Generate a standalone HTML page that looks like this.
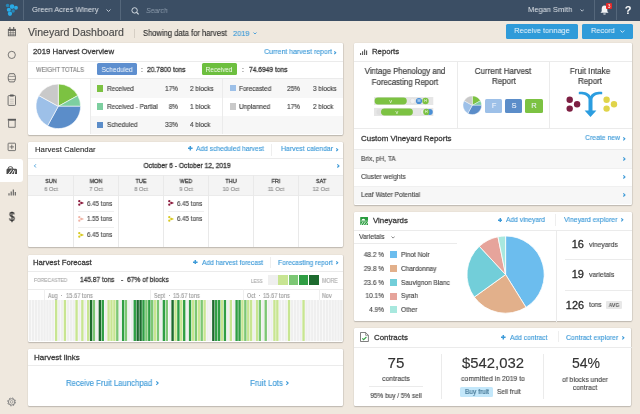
<!DOCTYPE html>
<html><head><meta charset="utf-8"><title>Vineyard Dashboard</title>
<style>
html,body{margin:0;padding:0;}
body{width:640px;height:414px;overflow:hidden;position:relative;background:#efe8de;font-family:"Liberation Sans",sans-serif;}
.t{position:absolute;white-space:nowrap;line-height:1;will-change:transform;}
.r{position:absolute;}
.card{position:absolute;background:#fff;border-radius:1.2px;box-shadow:0 1px 1.2px rgba(0,0,0,0.2), 0.6px 0 0.8px rgba(0,0,0,0.07), 0 0 0 0.5px rgba(0,0,0,0.045);}
</style></head><body>
<div class="r" style="left:0.00px;top:0.00px;width:640.00px;height:20.70px;background:#3b4e64;"></div>
<div class="r" style="left:22.50px;top:0.00px;width:0.70px;height:20.30px;background:#55677b;"></div>
<div class="r" style="left:120.30px;top:0.00px;width:0.70px;height:20.30px;background:#55677b;"></div>
<div class="r" style="left:593.50px;top:0.00px;width:0.70px;height:20.30px;background:#55677b;"></div>
<div class="r" style="left:616.30px;top:0.00px;width:0.70px;height:20.30px;background:#55677b;"></div>
<svg class="r" style="left:0;top:0" width="22" height="20" viewBox="0 0 22 20">
<circle cx="7.55" cy="5.55" r="1.75" fill="#2686b6"/>
<circle cx="12.05" cy="6.6" r="2.3" fill="#29aae6"/>
<circle cx="16" cy="7.75" r="1.9" fill="#29aae6"/>
<circle cx="8.85" cy="9.7" r="2.05" fill="#29aae6"/>
<circle cx="13.1" cy="10.9" r="1.75" fill="#2686b6"/>
<circle cx="9.95" cy="13.75" r="2.15" fill="#29aae6"/></svg>
<div class="t" style="top:6.00px;font-size:7.674px;color:#dde2e8;left:32.00px;transform:scaleX(0.9709);transform-origin:left;-webkit-text-stroke:0;">Green Acres Winery</div>
<svg class="r" style="left:105.6px;top:8.8px" width="5" height="3.5" viewBox="-0.5 -0.5 5 3.5"><path d="M0 0 L2.0 2.0 L4 0" fill="none" stroke="#c9d2dc" stroke-width="0.9"/></svg>
<svg class="r" style="left:130.5px;top:6.5px" width="9" height="8" viewBox="0 0 9 8"><circle cx="3.6" cy="3.4" r="2.7" fill="none" stroke="#dfe5eb" stroke-width="0.9"/><path d="M5.6 5.4 L7.6 7.3" stroke="#dfe5eb" stroke-width="1.1"/></svg>
<div class="t" style="top:7.00px;font-size:7.344px;color:#8d9cad;font-style:italic;left:146.00px;transform:scaleX(0.9259);transform-origin:left;-webkit-text-stroke:0;">Search</div>
<div class="t" style="top:6.00px;font-size:7.725px;color:#dde2e8;left:527.90px;transform:scaleX(0.9709);transform-origin:left;-webkit-text-stroke:0;">Megan Smith</div>
<svg class="r" style="left:579.6px;top:8.9px" width="4.4" height="3.2" viewBox="-0.5 -0.5 4.4 3.2"><path d="M0 0 L1.7 1.7 L3.4 0" fill="none" stroke="#c9d2dc" stroke-width="0.9"/></svg>
<svg class="r" style="left:599.5px;top:5px" width="9" height="10" viewBox="0 0 9 10"><path d="M4.5 0.6 C2.4 0.6 1.7 2.3 1.7 4.2 L1.7 6.3 L0.5 7.8 L8.5 7.8 L7.3 6.3 L7.3 4.2 C7.3 2.3 6.6 0.6 4.5 0.6Z" fill="#f2f4f6"/><path d="M3.2 8.4 a1.3 1.2 0 0 0 2.6 0Z" fill="#f2f4f6"/></svg>
<div class="r" style="left:605.80px;top:2.80px;width:6.50px;height:6.60px;background:#e02a2a;border-radius:1px"></div>
<div class="t" style="top:5.00px;font-size:4.860px;color:#fff;left:309.05px;width:600px;text-align:center;transform:scaleX(0.9259);transform-origin:center;-webkit-text-stroke:0;">3</div>
<div class="t" style="top:5.00px;font-size:11.000px;color:#fbfbfb;font-weight:700;left:328.20px;width:600px;text-align:center;">?</div>
<div class="r" style="left:0.00px;top:159.30px;width:22.80px;height:22.40px;background:#ffffff;border-radius:0 3px 3px 0"></div>
<svg class="r" style="left:0;top:20px" width="24" height="394" viewBox="0 20 24 394" fill="none" stroke="#5a5a5a" stroke-width="0.8">
<!-- calendar -->
<rect x="8.3" y="29.3" width="7.2" height="6.5" stroke-width="0.8"/>
<rect x="8.3" y="29.3" width="7.2" height="1.6" fill="#5a5a5a" stroke="none"/>
<path d="M10.7 29.5 V35.8 M13.1 29.5 V35.8 M8.3 32.6 H15.5 M8.3 34.3 H15.5" stroke-width="0.55"/>
<path d="M9.9 27.1 V29.5 M13.7 27.1 V29.5" stroke-width="1.1"/>
<!-- circle -->
<circle cx="11.75" cy="54.9" r="3.6"/>
<!-- barrel -->
<path d="M9.4 73.7 C7.7 75.7 7.7 79.9 9.4 81.9 H14.2 C15.9 79.9 15.9 75.7 14.2 73.7 Z" stroke-width="0.85"/>
<path d="M8.5 76.2 Q11.8 76.8 15.1 76.2 M8.5 79.4 Q11.8 80 15.1 79.4" stroke-width="0.6"/>
<!-- clipboard -->
<rect x="8.1" y="95.6" width="7.4" height="9.8" rx="0.8" stroke-width="0.85"/>
<rect x="9.9" y="94.6" width="3.8" height="1.9" rx="0.4" fill="#5a5a5a" stroke="none"/>
<path d="M9.9 99.2 H13.7 M9.9 101.2 H13.7 M9.9 103.2 H13.7" stroke-width="0.45" stroke="#999"/>
<!-- archive -->
<rect x="7.8" y="118.8" width="8.2" height="1.9" fill="#5a5a5a" stroke="none"/>
<path d="M8.6 120.6 V127.3 H15.2 V120.6"/>
<!-- plus box -->
<rect x="8.1" y="143.2" width="7.4" height="7.4" rx="0.6"/>
<path d="M11.8 144.7 V149.1 M9.6 146.9 H14" />
<!-- chart -->
<path d="M9 195.5 V193.2 M11.2 195.5 V191.4 M13.3 195.5 V189.5 M15.3 195.5 V192" stroke-width="1.1"/>
<!-- gear -->
<circle cx="11.6" cy="401.9" r="3.2" stroke="#858585" stroke-width="1.0"/>
<circle cx="11.6" cy="401.9" r="3.95" stroke="#858585" stroke-width="1.0" stroke-dasharray="1.55 1.55"/>
<circle cx="11.6" cy="401.9" r="1.35" stroke="#888" stroke-width="0.7"/>
</svg>
<svg class="r" style="left:6px;top:164px" width="12" height="11" viewBox="6 164 12 11">
<path d="M6.5 174.1 V169.9 Q6.5 168.7 7.7 168.7 H15.8 Q17 168.7 17 169.9 V174.1 Z" fill="#4a4a4a"/>
<path d="M8 168.9 A2.45 2.3 0 0 1 12.9 168.9 Z" fill="#fff" stroke="#4a4a4a" stroke-width="0.9"/>
<path d="M8.2 174.3 L11.7 169.6 M11.2 174.3 L13.9 169.9 M14.3 174.3 L15 170.6" stroke="#fff" stroke-width="0.95"/>
</svg>
<div class="t" style="top:211.00px;font-size:12.200px;color:#333;left:-288.35px;width:600px;text-align:center;transform:scaleX(0.8200);transform-origin:center;-webkit-text-stroke:0.35px #333;">$</div>
<div class="t" style="top:27.00px;font-size:10.550px;color:#4a4a4a;-webkit-text-stroke:0.14px #4a4a4a;left:28.20px;">Vineyard Dashboard</div>
<div class="r" style="left:134.20px;top:28.60px;width:0.80px;height:9.00px;background:#d6cfc5;"></div>
<div class="t" style="top:30.00px;font-size:8.208px;color:#2e2e2e;-webkit-text-stroke:0.14px #2e2e2e;left:143.30px;transform:scaleX(0.9259);transform-origin:left;">Showing data for harvest</div>
<div class="t" style="top:30.00px;font-size:7.992px;color:#3d9ad8;-webkit-text-stroke:0.14px #3d9ad8;left:232.60px;transform:scaleX(0.9259);transform-origin:left;">2019</div>
<svg class="r" style="left:253.4px;top:31.9px" width="4" height="3.0" viewBox="-0.5 -0.5 4 3.0"><path d="M0 0 L1.5 1.5 L3 0" fill="none" stroke="#3d9ad8" stroke-width="0.9"/></svg>
<div class="r" style="left:505.80px;top:24.20px;width:72.40px;height:14.60px;background:#2f9bd9;border-radius:1.5px"></div>
<div class="t" style="top:27.00px;font-size:7.992px;color:#f2f8fd;left:242.00px;width:600px;text-align:center;transform:scaleX(0.9259);transform-origin:center;-webkit-text-stroke:0;">Receive tonnage</div>
<div class="r" style="left:582.00px;top:24.20px;width:50.80px;height:14.60px;background:#2f9bd9;border-radius:1.5px"></div>
<div class="t" style="top:27.00px;font-size:7.992px;color:#f2f8fd;left:590.50px;transform:scaleX(0.9259);transform-origin:left;-webkit-text-stroke:0;">Record</div>
<svg class="r" style="left:620.4px;top:30px" width="4.8" height="3.4" viewBox="-0.5 -0.5 4.8 3.4"><path d="M0 0 L1.9 1.9 L3.8 0" fill="none" stroke="#e8f3fb" stroke-width="0.9"/></svg>
<div class="card" style="left:28px;top:43px;width:315px;height:92px"></div>
<div class="card" style="left:28px;top:141.6px;width:315px;height:105.4px"></div>
<div class="card" style="left:28px;top:255px;width:315px;height:86.7px"></div>
<div class="card" style="left:28px;top:349px;width:315px;height:57px"></div>
<div class="card" style="left:354px;top:43px;width:277.7px;height:161.5px"></div>
<div class="card" style="left:354px;top:212px;width:277.7px;height:109.4px"></div>
<div class="card" style="left:354px;top:328.4px;width:277.4px;height:78.1px"></div>
<div class="t" style="top:48.00px;font-size:7.810px;color:#3a3a3a;-webkit-text-stroke:0.28px #3a3a3a;left:33.00px;">2019 Harvest Overview</div>
<div class="t" style="top:48.00px;font-size:7.506px;color:#3d9ad8;-webkit-text-stroke:0.14px #3d9ad8;left:-268.50px;width:600px;text-align:right;transform:scaleX(0.9259);transform-origin:right;">Current harvest report</div>
<svg class="r" style="left:333.90px;top:50.50px;overflow:visible" width="2.11" height="3.40" viewBox="0 0 2.11 3.40"><path d="M0.3 0.3 L1.71 1.70 L0.3 3.10" fill="none" stroke="#3d9ad8" stroke-width="1.15"/></svg>
<div class="r" style="left:28.00px;top:61.20px;width:315.00px;height:0.60px;background:#ebebeb;"></div>
<div class="t" style="top:67.00px;font-size:6.840px;color:#808080;-webkit-text-stroke:0.14px #808080;left:35.50px;transform:scaleX(0.8772);transform-origin:left;">WEIGHT TOTALS</div>
<div class="r" style="left:96.60px;top:63.40px;width:40.30px;height:11.70px;background:#5e8fcf;border-radius:1.5px"></div>
<div class="t" style="top:66.00px;font-size:7.236px;color:#f4f8fc;left:-183.25px;width:600px;text-align:center;transform:scaleX(0.9259);transform-origin:center;-webkit-text-stroke:0;letter-spacing:-0.05px;">Scheduled</div>
<div class="t" style="top:66.00px;font-size:7.020px;color:#474747;-webkit-text-stroke:0.14px #474747;left:140.80px;transform:scaleX(0.9259);transform-origin:left;">:</div>
<div class="t" style="top:66.00px;font-size:7.204px;color:#3a3a3a;-webkit-text-stroke:0.28px #3a3a3a;left:147.00px;transform:scaleX(0.9259);transform-origin:left;">20.7800 tons</div>
<div class="r" style="left:201.70px;top:63.40px;width:35.20px;height:11.70px;background:#6dbf3f;border-radius:1.5px"></div>
<div class="t" style="top:66.00px;font-size:7.020px;color:#f6fbf2;left:-80.70px;width:600px;text-align:center;transform:scaleX(0.9259);transform-origin:center;-webkit-text-stroke:0;letter-spacing:-0.05px;">Received</div>
<div class="t" style="top:66.00px;font-size:7.020px;color:#474747;-webkit-text-stroke:0.14px #474747;left:241.50px;transform:scaleX(0.9259);transform-origin:left;">:</div>
<div class="t" style="top:66.00px;font-size:7.204px;color:#3a3a3a;-webkit-text-stroke:0.28px #3a3a3a;left:249.00px;transform:scaleX(0.9259);transform-origin:left;">74.6949 tons</div>
<div class="r" style="left:28.00px;top:78.40px;width:315.00px;height:0.60px;background:#ebebeb;"></div>
<div class="r" style="left:90.60px;top:79.00px;width:252.40px;height:18.50px;background:#f7f7f7;"></div>
<div class="r" style="left:90.60px;top:115.80px;width:252.40px;height:18.60px;background:#f7f7f7;"></div>
<div class="r" style="left:90.20px;top:79.00px;width:0.60px;height:55.40px;background:#ebebeb;"></div>
<div class="r" style="left:222.30px;top:79.00px;width:0.60px;height:55.40px;background:#ebebeb;"></div>
<div class="r" style="left:96.70px;top:85.10px;width:6.50px;height:6.50px;background:#7cc242;"></div>
<div class="t" style="top:86.00px;font-size:6.966px;color:#404040;-webkit-text-stroke:0.14px #404040;left:106.80px;transform:scaleX(0.9259);transform-origin:left;">Received</div>
<div class="t" style="top:86.00px;font-size:6.966px;color:#404040;-webkit-text-stroke:0.14px #404040;left:-422.20px;width:600px;text-align:right;transform:scaleX(0.9259);transform-origin:right;">17%</div>
<div class="t" style="top:86.00px;font-size:6.966px;color:#404040;-webkit-text-stroke:0.14px #404040;left:190.30px;transform:scaleX(0.9259);transform-origin:left;">2 blocks</div>
<div class="r" style="left:229.80px;top:85.10px;width:6.40px;height:6.40px;background:#9dc0e8;"></div>
<div class="t" style="top:86.00px;font-size:6.966px;color:#404040;-webkit-text-stroke:0.14px #404040;left:239.40px;transform:scaleX(0.9259);transform-origin:left;">Forecasted</div>
<div class="t" style="top:86.00px;font-size:6.966px;color:#404040;-webkit-text-stroke:0.14px #404040;left:-300.00px;width:600px;text-align:right;transform:scaleX(0.9259);transform-origin:right;">25%</div>
<div class="t" style="top:86.00px;font-size:6.966px;color:#404040;-webkit-text-stroke:0.14px #404040;left:313.00px;transform:scaleX(0.9259);transform-origin:left;">3 blocks</div>
<div class="r" style="left:96.70px;top:103.40px;width:6.50px;height:6.50px;background:#7dcfa0;"></div>
<div class="t" style="top:104.00px;font-size:6.966px;color:#404040;-webkit-text-stroke:0.14px #404040;left:106.80px;transform:scaleX(0.9259);transform-origin:left;">Received - Partial</div>
<div class="t" style="top:104.00px;font-size:6.966px;color:#404040;-webkit-text-stroke:0.14px #404040;left:-422.20px;width:600px;text-align:right;transform:scaleX(0.9259);transform-origin:right;">8%</div>
<div class="t" style="top:104.00px;font-size:6.966px;color:#404040;-webkit-text-stroke:0.14px #404040;left:190.30px;transform:scaleX(0.9259);transform-origin:left;">1 block</div>
<div class="r" style="left:229.80px;top:103.40px;width:6.40px;height:6.40px;background:#c9c9c9;"></div>
<div class="t" style="top:104.00px;font-size:6.966px;color:#404040;-webkit-text-stroke:0.14px #404040;left:239.40px;transform:scaleX(0.9259);transform-origin:left;">Unplanned</div>
<div class="t" style="top:104.00px;font-size:6.966px;color:#404040;-webkit-text-stroke:0.14px #404040;left:-300.00px;width:600px;text-align:right;transform:scaleX(0.9259);transform-origin:right;">17%</div>
<div class="t" style="top:104.00px;font-size:6.966px;color:#404040;-webkit-text-stroke:0.14px #404040;left:313.00px;transform:scaleX(0.9259);transform-origin:left;">2 block</div>
<div class="r" style="left:96.70px;top:121.70px;width:6.50px;height:6.50px;background:#5b8dc9;"></div>
<div class="t" style="top:122.00px;font-size:6.966px;color:#404040;-webkit-text-stroke:0.14px #404040;left:106.80px;transform:scaleX(0.9259);transform-origin:left;">Scheduled</div>
<div class="t" style="top:122.00px;font-size:6.966px;color:#404040;-webkit-text-stroke:0.14px #404040;left:-422.20px;width:600px;text-align:right;transform:scaleX(0.9259);transform-origin:right;">33%</div>
<div class="t" style="top:122.00px;font-size:6.966px;color:#404040;-webkit-text-stroke:0.14px #404040;left:190.30px;transform:scaleX(0.9259);transform-origin:left;">4 block</div>
<svg class="r" style="left:35.30px;top:83.30px" width="46.60" height="46.60" viewBox="-23.30 -23.30 46.60 46.60"><path d="M0 0 L0.000 -22.300 A22.3 22.3 0 0 1 19.542 -10.743 Z" fill="#7cc242" stroke="#fff" stroke-width="0.6" stroke-linejoin="round"/><path d="M0 0 L19.542 -10.743 A22.3 22.3 0 0 1 22.300 -0.000 Z" fill="#7dcfa0" stroke="#fff" stroke-width="0.6" stroke-linejoin="round"/><path d="M0 0 L22.300 -0.000 A22.3 22.3 0 0 1 -10.743 19.542 Z" fill="#5b8dc9" stroke="#fff" stroke-width="0.6" stroke-linejoin="round"/><path d="M0 0 L-10.743 19.542 A22.3 22.3 0 0 1 -19.542 -10.743 Z" fill="#9dc0e8" stroke="#fff" stroke-width="0.6" stroke-linejoin="round"/><path d="M0 0 L-19.542 -10.743 A22.3 22.3 0 0 1 -0.000 -22.300 Z" fill="#c9c9c9" stroke="#fff" stroke-width="0.6" stroke-linejoin="round"/></svg>
<div class="t" style="top:146.00px;font-size:7.790px;color:#2e2e2e;left:34.60px;-webkit-text-stroke:0.12px #2e2e2e;">Harvest Calendar</div>
<svg class="r" style="left:188.10px;top:146.40px" width="4.6" height="4.6" viewBox="0 0 4.6 4.6"><path d="M2.3 0 V4.6 M0 2.3 H4.6" stroke="#3d9ad8" stroke-width="1.5"/></svg>
<div class="t" style="top:145.00px;font-size:7.214px;color:#3d9ad8;-webkit-text-stroke:0.14px #3d9ad8;left:196.00px;transform:scaleX(0.9259);transform-origin:left;">Add scheduled harvest</div>
<div class="r" style="left:271.20px;top:144.00px;width:0.80px;height:11.60px;background:#eeeeee;"></div>
<div class="t" style="top:145.00px;font-size:7.441px;color:#3d9ad8;-webkit-text-stroke:0.14px #3d9ad8;left:280.50px;transform:scaleX(0.9259);transform-origin:left;">Harvest calendar</div>
<svg class="r" style="left:336.30px;top:147.50px;overflow:visible" width="2.11" height="3.40" viewBox="0 0 2.11 3.40"><path d="M0.3 0.3 L1.71 1.70 L0.3 3.10" fill="none" stroke="#3d9ad8" stroke-width="1.15"/></svg>
<div class="r" style="left:28.00px;top:158.10px;width:315.00px;height:0.60px;background:#ebebeb;"></div>
<svg class="r" style="left:33.9px;top:164.3px;overflow:visible" width="2.2" height="3.8" viewBox="0 0 2.2 3.8"><path d="M1.9 0.3 L0.4 1.9 L1.9 3.5" fill="none" stroke="#3d9ad8" stroke-width="0.9"/></svg>
<svg class="r" style="left:337.00px;top:164.30px;overflow:visible" width="2.36" height="3.80" viewBox="0 0 2.36 3.80"><path d="M0.3 0.3 L1.96 1.90 L0.3 3.50" fill="none" stroke="#3d9ad8" stroke-width="1.15"/></svg>
<div class="t" style="top:162.00px;font-size:7.247px;color:#333;-webkit-text-stroke:0.28px #333;left:-113.50px;width:600px;text-align:center;transform:scaleX(0.9259);transform-origin:center;">October 6 - October 12, 2019</div>
<div class="r" style="left:28.00px;top:175.10px;width:315.00px;height:20.30px;background:#f4f4f4;"></div>
<div class="r" style="left:28.00px;top:174.80px;width:315.00px;height:0.60px;background:#ebebeb;"></div>
<div class="r" style="left:28.00px;top:195.20px;width:315.00px;height:0.60px;background:#ebebeb;"></div>
<div class="t" style="top:179.00px;font-size:5.832px;color:#444;-webkit-text-stroke:0.28px #444;left:-249.50px;width:600px;text-align:center;transform:scaleX(0.9259);transform-origin:center;">SUN</div>
<div class="t" style="top:186.00px;font-size:6.188px;color:#8c8c8c;-webkit-text-stroke:0.14px #8c8c8c;left:-249.50px;width:600px;text-align:center;transform:scaleX(0.9259);transform-origin:center;">6 Oct</div>
<div class="t" style="top:179.00px;font-size:5.832px;color:#444;-webkit-text-stroke:0.28px #444;left:-204.50px;width:600px;text-align:center;transform:scaleX(0.9259);transform-origin:center;">MON</div>
<div class="t" style="top:186.00px;font-size:6.188px;color:#8c8c8c;-webkit-text-stroke:0.14px #8c8c8c;left:-204.50px;width:600px;text-align:center;transform:scaleX(0.9259);transform-origin:center;">7 Oct</div>
<div class="r" style="left:73.00px;top:175.10px;width:0.90px;height:71.60px;background:#e9e9e9;"></div>
<div class="t" style="top:179.00px;font-size:5.832px;color:#444;-webkit-text-stroke:0.28px #444;left:-159.50px;width:600px;text-align:center;transform:scaleX(0.9259);transform-origin:center;">TUE</div>
<div class="t" style="top:186.00px;font-size:6.188px;color:#8c8c8c;-webkit-text-stroke:0.14px #8c8c8c;left:-159.50px;width:600px;text-align:center;transform:scaleX(0.9259);transform-origin:center;">8 Oct</div>
<div class="r" style="left:118.00px;top:175.10px;width:0.90px;height:71.60px;background:#e9e9e9;"></div>
<div class="t" style="top:179.00px;font-size:5.832px;color:#444;-webkit-text-stroke:0.28px #444;left:-114.50px;width:600px;text-align:center;transform:scaleX(0.9259);transform-origin:center;">WED</div>
<div class="t" style="top:186.00px;font-size:6.188px;color:#8c8c8c;-webkit-text-stroke:0.14px #8c8c8c;left:-114.50px;width:600px;text-align:center;transform:scaleX(0.9259);transform-origin:center;">9 Oct</div>
<div class="r" style="left:163.00px;top:175.10px;width:0.90px;height:71.60px;background:#e9e9e9;"></div>
<div class="t" style="top:179.00px;font-size:5.832px;color:#444;-webkit-text-stroke:0.28px #444;left:-69.50px;width:600px;text-align:center;transform:scaleX(0.9259);transform-origin:center;">THU</div>
<div class="t" style="top:186.00px;font-size:6.188px;color:#8c8c8c;-webkit-text-stroke:0.14px #8c8c8c;left:-69.50px;width:600px;text-align:center;transform:scaleX(0.9259);transform-origin:center;">10 Oct</div>
<div class="r" style="left:208.00px;top:175.10px;width:0.90px;height:71.60px;background:#e9e9e9;"></div>
<div class="t" style="top:179.00px;font-size:5.832px;color:#444;-webkit-text-stroke:0.28px #444;left:-24.50px;width:600px;text-align:center;transform:scaleX(0.9259);transform-origin:center;">FRI</div>
<div class="t" style="top:186.00px;font-size:6.188px;color:#8c8c8c;-webkit-text-stroke:0.14px #8c8c8c;left:-24.50px;width:600px;text-align:center;transform:scaleX(0.9259);transform-origin:center;">11 Oct</div>
<div class="r" style="left:253.00px;top:175.10px;width:0.90px;height:71.60px;background:#e9e9e9;"></div>
<div class="t" style="top:179.00px;font-size:5.832px;color:#444;-webkit-text-stroke:0.28px #444;left:20.50px;width:600px;text-align:center;transform:scaleX(0.9259);transform-origin:center;">SAT</div>
<div class="t" style="top:186.00px;font-size:6.188px;color:#8c8c8c;-webkit-text-stroke:0.14px #8c8c8c;left:20.50px;width:600px;text-align:center;transform:scaleX(0.9259);transform-origin:center;">12 Oct</div>
<div class="r" style="left:298.00px;top:175.10px;width:0.90px;height:71.60px;background:#e9e9e9;"></div>
<svg class="r" style="left:77.9px;top:200.0px" width="6" height="6" viewBox="0 0 6 6"><circle cx="1.3" cy="1.2" r="1.15" fill="#8b1a3c"/><circle cx="1.3" cy="4.7" r="1.15" fill="#8b1a3c"/><circle cx="3.3" cy="3" r="1.15" fill="#8b1a3c"/><path d="M4.2 2 L6 3 L4.2 4Z" fill="#8b1a3c"/></svg>
<div class="t" style="top:201.00px;font-size:6.664px;color:#474747;-webkit-text-stroke:0.14px #474747;left:87.10px;transform:scaleX(0.9259);transform-origin:left;">6.45 tons</div>
<div class="r" style="left:78.30px;top:211.00px;width:35.80px;height:0.60px;background:#efefef;"></div>
<svg class="r" style="left:77.9px;top:215.7px" width="6" height="6" viewBox="0 0 6 6"><circle cx="1.3" cy="1.2" r="1.15" fill="#f0b4a6"/><circle cx="1.3" cy="4.7" r="1.15" fill="#f0b4a6"/><circle cx="3.3" cy="3" r="1.15" fill="#f0b4a6"/><path d="M4.2 2 L6 3 L4.2 4Z" fill="#f0b4a6"/></svg>
<div class="t" style="top:216.00px;font-size:6.664px;color:#474747;-webkit-text-stroke:0.14px #474747;left:87.10px;transform:scaleX(0.9259);transform-origin:left;">1.55 tons</div>
<div class="r" style="left:78.30px;top:226.70px;width:35.80px;height:0.60px;background:#efefef;"></div>
<svg class="r" style="left:77.9px;top:231.5px" width="6" height="6" viewBox="0 0 6 6"><circle cx="1.3" cy="1.2" r="1.15" fill="#d8ca22"/><circle cx="1.3" cy="4.7" r="1.15" fill="#d8ca22"/><circle cx="3.3" cy="3" r="1.15" fill="#d8ca22"/><path d="M4.2 2 L6 3 L4.2 4Z" fill="#d8ca22"/></svg>
<div class="t" style="top:232.00px;font-size:6.664px;color:#474747;-webkit-text-stroke:0.14px #474747;left:87.10px;transform:scaleX(0.9259);transform-origin:left;">6.45 tons</div>
<svg class="r" style="left:167.9px;top:200.0px" width="6" height="6" viewBox="0 0 6 6"><circle cx="1.3" cy="1.2" r="1.15" fill="#8b1a3c"/><circle cx="1.3" cy="4.7" r="1.15" fill="#8b1a3c"/><circle cx="3.3" cy="3" r="1.15" fill="#8b1a3c"/><path d="M4.2 2 L6 3 L4.2 4Z" fill="#8b1a3c"/></svg>
<div class="t" style="top:201.00px;font-size:6.664px;color:#474747;-webkit-text-stroke:0.14px #474747;left:177.10px;transform:scaleX(0.9259);transform-origin:left;">6.45 tons</div>
<div class="r" style="left:168.30px;top:211.00px;width:35.80px;height:0.60px;background:#efefef;"></div>
<svg class="r" style="left:167.9px;top:215.7px" width="6" height="6" viewBox="0 0 6 6"><circle cx="1.3" cy="1.2" r="1.15" fill="#d8ca22"/><circle cx="1.3" cy="4.7" r="1.15" fill="#d8ca22"/><circle cx="3.3" cy="3" r="1.15" fill="#d8ca22"/><path d="M4.2 2 L6 3 L4.2 4Z" fill="#d8ca22"/></svg>
<div class="t" style="top:216.00px;font-size:6.664px;color:#474747;-webkit-text-stroke:0.14px #474747;left:177.10px;transform:scaleX(0.9259);transform-origin:left;">6.45 tons</div>
<div class="t" style="top:259.00px;font-size:7.720px;color:#3a3a3a;-webkit-text-stroke:0.28px #3a3a3a;left:33.00px;">Harvest Forecast</div>
<svg class="r" style="left:193.20px;top:259.90px" width="4.6" height="4.6" viewBox="0 0 4.6 4.6"><path d="M2.3 0 V4.6 M0 2.3 H4.6" stroke="#3d9ad8" stroke-width="1.5"/></svg>
<div class="t" style="top:259.00px;font-size:7.214px;color:#3d9ad8;-webkit-text-stroke:0.14px #3d9ad8;left:201.50px;transform:scaleX(0.9259);transform-origin:left;">Add harvest forecast</div>
<div class="r" style="left:270.30px;top:256.80px;width:0.80px;height:11.60px;background:#eeeeee;"></div>
<div class="t" style="top:259.00px;font-size:7.290px;color:#3d9ad8;-webkit-text-stroke:0.14px #3d9ad8;left:278.30px;transform:scaleX(0.9259);transform-origin:left;">Forecasting report</div>
<svg class="r" style="left:336.10px;top:260.90px;overflow:visible" width="2.11" height="3.40" viewBox="0 0 2.11 3.40"><path d="M0.3 0.3 L1.71 1.70 L0.3 3.10" fill="none" stroke="#3d9ad8" stroke-width="1.15"/></svg>
<div class="r" style="left:28.00px;top:271.40px;width:315.00px;height:0.60px;background:#ebebeb;"></div>
<div class="t" style="top:278.00px;font-size:5.260px;color:#aaa;-webkit-text-stroke:0.14px #aaa;left:33.50px;transform:scaleX(0.9259);transform-origin:left;">FORECASTED</div>
<div class="t" style="top:277.00px;font-size:7.128px;color:#3a3a3a;-webkit-text-stroke:0.28px #3a3a3a;left:79.75px;transform:scaleX(0.9259);transform-origin:left;">145.87 tons</div>
<div class="t" style="top:277.00px;font-size:7.128px;color:#3a3a3a;-webkit-text-stroke:0.28px #3a3a3a;left:120.50px;transform:scaleX(0.9259);transform-origin:left;">-</div>
<div class="t" style="top:276.00px;font-size:7.247px;color:#3a3a3a;-webkit-text-stroke:0.28px #3a3a3a;left:126.75px;transform:scaleX(0.9259);transform-origin:left;">67% of blocks</div>
<div class="t" style="top:279.00px;font-size:5.763px;color:#aaa;-webkit-text-stroke:0.14px #aaa;left:250.60px;transform:scaleX(0.8000);transform-origin:left;">LESS</div>
<div class="r" style="left:268.20px;top:275.20px;width:9.70px;height:10.00px;background:#efefef;"></div>
<div class="r" style="left:278.40px;top:275.20px;width:9.70px;height:10.00px;background:#c8e592;"></div>
<div class="r" style="left:288.60px;top:275.20px;width:9.70px;height:10.00px;background:#7cc774;"></div>
<div class="r" style="left:298.80px;top:275.20px;width:9.70px;height:10.00px;background:#2f9e44;"></div>
<div class="r" style="left:309.00px;top:275.20px;width:9.70px;height:10.00px;background:#1d6a2e;"></div>
<div class="t" style="top:278.00px;font-size:6.300px;color:#aaa;-webkit-text-stroke:0.14px #aaa;left:322.00px;transform:scaleX(0.8333);transform-origin:left;">MORE</div>
<div class="r" style="left:28.00px;top:288.60px;width:315.00px;height:0.60px;background:#ebebeb;"></div>
<svg class="r" style="left:28px;top:300px" width="316" height="41" viewBox="28 300 316 41"><rect x="28.80" y="300" width="2.40" height="41" fill="#efefef"/><rect x="31.71" y="300" width="2.40" height="41" fill="#efefef"/><rect x="34.62" y="300" width="2.40" height="41" fill="#efefef"/><rect x="37.53" y="300" width="2.40" height="41" fill="#efefef"/><rect x="40.44" y="300" width="2.40" height="41" fill="#efefef"/><rect x="43.35" y="300" width="2.40" height="41" fill="#efefef"/><rect x="46.26" y="300" width="2.40" height="41" fill="#efefef"/><rect x="49.17" y="300" width="2.40" height="41" fill="#efefef"/><rect x="52.08" y="300" width="2.40" height="41" fill="#efefef"/><rect x="54.99" y="300" width="2.40" height="41" fill="#c8e592"/><rect x="57.90" y="300" width="2.40" height="41" fill="#efefef"/><rect x="60.81" y="300" width="2.40" height="41" fill="#efefef"/><rect x="63.72" y="300" width="2.40" height="41" fill="#c8e592"/><rect x="66.63" y="300" width="2.40" height="41" fill="#efefef"/><rect x="69.54" y="300" width="2.40" height="41" fill="#efefef"/><rect x="72.45" y="300" width="2.40" height="41" fill="#efefef"/><rect x="75.36" y="300" width="2.40" height="41" fill="#c8e592"/><rect x="78.27" y="300" width="2.40" height="41" fill="#efefef"/><rect x="81.18" y="300" width="2.40" height="41" fill="#c8e592"/><rect x="84.09" y="300" width="2.40" height="41" fill="#efefef"/><rect x="87.00" y="300" width="2.40" height="41" fill="#c8e592"/><rect x="89.91" y="300" width="2.40" height="41" fill="#1d6a2e"/><rect x="92.82" y="300" width="2.40" height="41" fill="#7cc774"/><rect x="95.73" y="300" width="2.40" height="41" fill="#efefef"/><rect x="98.64" y="300" width="2.40" height="41" fill="#1d6a2e"/><rect x="101.55" y="300" width="2.40" height="41" fill="#2f9e44"/><rect x="104.46" y="300" width="2.40" height="41" fill="#efefef"/><rect x="107.37" y="300" width="2.40" height="41" fill="#c8e592"/><rect x="110.28" y="300" width="2.40" height="41" fill="#c8e592"/><rect x="113.19" y="300" width="2.40" height="41" fill="#c8e592"/><rect x="116.10" y="300" width="2.40" height="41" fill="#7cc774"/><rect x="119.01" y="300" width="2.40" height="41" fill="#efefef"/><rect x="121.92" y="300" width="2.40" height="41" fill="#2f9e44"/><rect x="124.83" y="300" width="2.40" height="41" fill="#7cc774"/><rect x="127.74" y="300" width="2.40" height="41" fill="#efefef"/><rect x="130.65" y="300" width="2.40" height="41" fill="#efefef"/><rect x="133.56" y="300" width="2.40" height="41" fill="#2f9e44"/><rect x="136.47" y="300" width="2.40" height="41" fill="#1d6a2e"/><rect x="139.38" y="300" width="2.40" height="41" fill="#1d6a2e"/><rect x="142.29" y="300" width="2.40" height="41" fill="#2f9e44"/><rect x="145.20" y="300" width="2.40" height="41" fill="#7cc774"/><rect x="148.11" y="300" width="2.40" height="41" fill="#2f9e44"/><rect x="151.02" y="300" width="2.40" height="41" fill="#7cc774"/><rect x="153.93" y="300" width="2.40" height="41" fill="#c8e592"/><rect x="156.84" y="300" width="2.40" height="41" fill="#7cc774"/><rect x="159.75" y="300" width="2.40" height="41" fill="#efefef"/><rect x="162.66" y="300" width="2.40" height="41" fill="#2f9e44"/><rect x="165.57" y="300" width="2.40" height="41" fill="#7cc774"/><rect x="168.48" y="300" width="2.40" height="41" fill="#efefef"/><rect x="171.39" y="300" width="2.40" height="41" fill="#1d6a2e"/><rect x="174.30" y="300" width="2.40" height="41" fill="#c8e592"/><rect x="177.21" y="300" width="2.40" height="41" fill="#2f9e44"/><rect x="180.12" y="300" width="2.40" height="41" fill="#c8e592"/><rect x="183.03" y="300" width="2.40" height="41" fill="#2f9e44"/><rect x="185.94" y="300" width="2.40" height="41" fill="#efefef"/><rect x="188.85" y="300" width="2.40" height="41" fill="#2f9e44"/><rect x="191.76" y="300" width="2.40" height="41" fill="#c8e592"/><rect x="194.67" y="300" width="2.40" height="41" fill="#7cc774"/><rect x="197.58" y="300" width="2.40" height="41" fill="#c8e592"/><rect x="200.49" y="300" width="2.40" height="41" fill="#7cc774"/><rect x="203.40" y="300" width="2.40" height="41" fill="#c8e592"/><rect x="206.31" y="300" width="2.40" height="41" fill="#efefef"/><rect x="209.22" y="300" width="2.40" height="41" fill="#efefef"/><rect x="212.13" y="300" width="2.40" height="41" fill="#1d6a2e"/><rect x="215.04" y="300" width="2.40" height="41" fill="#2f9e44"/><rect x="217.95" y="300" width="2.40" height="41" fill="#2f9e44"/><rect x="220.86" y="300" width="2.40" height="41" fill="#c8e592"/><rect x="223.77" y="300" width="2.40" height="41" fill="#2f9e44"/><rect x="226.68" y="300" width="2.40" height="41" fill="#efefef"/><rect x="229.59" y="300" width="2.40" height="41" fill="#c8e592"/><rect x="232.50" y="300" width="2.40" height="41" fill="#efefef"/><rect x="235.41" y="300" width="2.40" height="41" fill="#2f9e44"/><rect x="238.32" y="300" width="2.40" height="41" fill="#2f9e44"/><rect x="241.23" y="300" width="2.40" height="41" fill="#c8e592"/><rect x="244.14" y="300" width="2.40" height="41" fill="#7cc774"/><rect x="247.05" y="300" width="2.40" height="41" fill="#c8e592"/><rect x="249.96" y="300" width="2.40" height="41" fill="#c8e592"/><rect x="252.87" y="300" width="2.40" height="41" fill="#efefef"/><rect x="255.78" y="300" width="2.40" height="41" fill="#c8e592"/><rect x="258.69" y="300" width="2.40" height="41" fill="#7cc774"/><rect x="261.60" y="300" width="2.40" height="41" fill="#efefef"/><rect x="264.51" y="300" width="2.40" height="41" fill="#7cc774"/><rect x="267.42" y="300" width="2.40" height="41" fill="#efefef"/><rect x="270.33" y="300" width="2.40" height="41" fill="#efefef"/><rect x="273.24" y="300" width="2.40" height="41" fill="#c8e592"/><rect x="276.15" y="300" width="2.40" height="41" fill="#c8e592"/><rect x="279.06" y="300" width="2.40" height="41" fill="#efefef"/><rect x="281.97" y="300" width="2.40" height="41" fill="#efefef"/><rect x="284.88" y="300" width="2.40" height="41" fill="#efefef"/><rect x="287.79" y="300" width="2.40" height="41" fill="#c8e592"/><rect x="290.70" y="300" width="2.40" height="41" fill="#efefef"/><rect x="293.61" y="300" width="2.40" height="41" fill="#efefef"/><rect x="296.52" y="300" width="2.40" height="41" fill="#efefef"/><rect x="299.43" y="300" width="2.40" height="41" fill="#efefef"/><rect x="302.34" y="300" width="2.40" height="41" fill="#c8e592"/><rect x="305.25" y="300" width="2.40" height="41" fill="#efefef"/><rect x="308.16" y="300" width="2.40" height="41" fill="#efefef"/><rect x="311.07" y="300" width="2.40" height="41" fill="#efefef"/><rect x="313.98" y="300" width="2.40" height="41" fill="#efefef"/><rect x="316.89" y="300" width="2.40" height="41" fill="#efefef"/><rect x="319.80" y="300" width="2.40" height="41" fill="#efefef"/><rect x="322.71" y="300" width="2.40" height="41" fill="#efefef"/><rect x="325.62" y="300" width="2.40" height="41" fill="#efefef"/><rect x="328.53" y="300" width="2.40" height="41" fill="#efefef"/><rect x="331.44" y="300" width="2.40" height="41" fill="#efefef"/><rect x="334.35" y="300" width="2.40" height="41" fill="#efefef"/><rect x="337.26" y="300" width="2.40" height="41" fill="#efefef"/><rect x="340.17" y="300" width="2.40" height="41" fill="#efefef"/></svg>
<div class="r" style="left:44.00px;top:289.00px;width:1.00px;height:11.00px;background:#efefef;"></div>
<div class="t" style="top:293.00px;font-size:6.750px;color:#9a9a9a;-webkit-text-stroke:0.14px #9a9a9a;left:48.40px;transform:scaleX(0.8000);transform-origin:left;">Aug</div>
<div class="r" style="left:61.10px;top:295.40px;width:1.40px;height:0.70px;background:#b0b0b0;"></div>
<div class="t" style="top:293.00px;font-size:6.773px;color:#9a9a9a;-webkit-text-stroke:0.14px #9a9a9a;left:66.30px;transform:scaleX(0.8475);transform-origin:left;">15.67 tons</div>
<div class="r" style="left:150.00px;top:289.00px;width:1.00px;height:11.00px;background:#efefef;"></div>
<div class="t" style="top:293.00px;font-size:6.750px;color:#9a9a9a;-webkit-text-stroke:0.14px #9a9a9a;left:153.90px;transform:scaleX(0.8000);transform-origin:left;">Sept</div>
<div class="r" style="left:168.50px;top:295.40px;width:1.40px;height:0.70px;background:#b0b0b0;"></div>
<div class="t" style="top:293.00px;font-size:6.773px;color:#9a9a9a;-webkit-text-stroke:0.14px #9a9a9a;left:173.30px;transform:scaleX(0.8475);transform-origin:left;">15.67 tons</div>
<div class="r" style="left:243.00px;top:289.00px;width:1.00px;height:11.00px;background:#efefef;"></div>
<div class="t" style="top:293.00px;font-size:6.750px;color:#9a9a9a;-webkit-text-stroke:0.14px #9a9a9a;left:247.00px;transform:scaleX(0.8000);transform-origin:left;">Oct</div>
<div class="r" style="left:258.70px;top:295.40px;width:1.40px;height:0.70px;background:#b0b0b0;"></div>
<div class="t" style="top:293.00px;font-size:6.773px;color:#9a9a9a;-webkit-text-stroke:0.14px #9a9a9a;left:263.20px;transform:scaleX(0.8475);transform-origin:left;">15.67 tons</div>
<div class="r" style="left:319.00px;top:289.00px;width:1.00px;height:11.00px;background:#efefef;"></div>
<div class="t" style="top:293.00px;font-size:6.750px;color:#9a9a9a;-webkit-text-stroke:0.14px #9a9a9a;left:322.40px;transform:scaleX(0.8000);transform-origin:left;">Nov</div>
<div class="t" style="top:354.00px;font-size:8.000px;color:#3a3a3a;-webkit-text-stroke:0.28px #3a3a3a;left:33.70px;">Harvest links</div>
<div class="r" style="left:28.00px;top:365.10px;width:315.00px;height:0.60px;background:#ebebeb;"></div>
<div class="t" style="top:379.00px;font-size:8.392px;color:#3d9ad8;-webkit-text-stroke:0.14px #3d9ad8;left:65.50px;transform:scaleX(0.9259);transform-origin:left;">Receive Fruit Launchpad</div>
<svg class="r" style="left:155.70px;top:381.20px;overflow:visible" width="2.54" height="4.10" viewBox="0 0 2.54 4.10"><path d="M0.3 0.3 L2.14 2.05 L0.3 3.80" fill="none" stroke="#3d9ad8" stroke-width="1.15"/></svg>
<div class="t" style="top:379.00px;font-size:8.521px;color:#3d9ad8;-webkit-text-stroke:0.14px #3d9ad8;left:249.60px;transform:scaleX(0.9259);transform-origin:left;">Fruit Lots</div>
<svg class="r" style="left:286.00px;top:381.20px;overflow:visible" width="2.54" height="4.10" viewBox="0 0 2.54 4.10"><path d="M0.3 0.3 L2.14 2.05 L0.3 3.80" fill="none" stroke="#3d9ad8" stroke-width="1.15"/></svg>
<svg class="r" style="left:359.6px;top:48.5px" width="8" height="6" viewBox="0 0 8 6"><path d="M0.6 6 V4 M2.6 6 V2.2 M4.6 6 V0.6 M6.6 6 V1.6" stroke="#555" stroke-width="1.1"/></svg>
<div class="t" style="top:48.00px;font-size:7.740px;color:#3a3a3a;-webkit-text-stroke:0.28px #3a3a3a;left:371.50px;">Reports</div>
<div class="r" style="left:354.00px;top:61.20px;width:277.70px;height:0.60px;background:#ebebeb;"></div>
<div class="r" style="left:456.50px;top:61.50px;width:0.60px;height:66.30px;background:#ebebeb;"></div>
<div class="r" style="left:549.00px;top:61.50px;width:0.60px;height:66.30px;background:#ebebeb;"></div>
<div class="r" style="left:354.00px;top:127.70px;width:277.70px;height:0.60px;background:#ebebeb;"></div>
<div class="t" style="top:67.00px;font-size:8.456px;color:#444;left:104.60px;width:600px;text-align:center;transform:scaleX(0.9259);transform-origin:center;-webkit-text-stroke:0.22px #444;">Vintage Phenology and</div>
<div class="t" style="top:78.00px;font-size:8.456px;color:#444;left:105.40px;width:600px;text-align:center;transform:scaleX(0.9259);transform-origin:center;-webkit-text-stroke:0.22px #444;">Forecasting Report</div>
<div class="t" style="top:67.00px;font-size:8.618px;color:#444;left:202.70px;width:600px;text-align:center;transform:scaleX(0.9259);transform-origin:center;-webkit-text-stroke:0.22px #444;">Current Harvest</div>
<div class="t" style="top:77.00px;font-size:8.618px;color:#444;left:204.00px;width:600px;text-align:center;transform:scaleX(0.9259);transform-origin:center;-webkit-text-stroke:0.22px #444;">Report</div>
<div class="t" style="top:67.00px;font-size:8.694px;color:#444;left:289.70px;width:600px;text-align:center;transform:scaleX(0.9259);transform-origin:center;-webkit-text-stroke:0.22px #444;">Fruit Intake</div>
<div class="t" style="top:77.00px;font-size:8.694px;color:#444;left:290.40px;width:600px;text-align:center;transform:scaleX(0.9259);transform-origin:center;-webkit-text-stroke:0.22px #444;">Report</div>
<svg class="r" style="left:374px;top:96.8px" width="59.5" height="19.2" viewBox="0 0 59.5 19.2">
<rect x="0" y="0" width="59.3" height="8" fill="#e6e6e6"/>
<rect x="0.6" y="0.6" width="32.2" height="6.8" rx="3.4" fill="#7cc242"/>
<text x="16.7" y="5.8" font-size="4.2" fill="#fff" text-anchor="middle" font-family="Liberation Sans">V</text>
<circle cx="38.7" cy="4" r="2.7" fill="#f2f2f2" stroke="#d4d4d4" stroke-width="0.5"/>
<circle cx="45" cy="4" r="3.1" fill="#4a8fd6"/>
<text x="45" y="5.5" font-size="3.6" fill="#fff" text-anchor="middle" font-family="Liberation Sans">M</text>
<circle cx="51.5" cy="4" r="3.2" fill="#7cc242"/>
<text x="51.5" y="5.5" font-size="3.6" fill="#fff" text-anchor="middle" font-family="Liberation Sans">H</text>
<rect x="0" y="10.9" width="59.3" height="8.1" fill="#e6e6e6"/>
<circle cx="5.4" cy="14.95" r="3" fill="#dedede"/>
<rect x="7" y="11.5" width="31.9" height="6.9" rx="3.4" fill="#7cc242"/>
<text x="23" y="16.7" font-size="4.2" fill="#fff" text-anchor="middle" font-family="Liberation Sans">V</text>
<circle cx="49.2" cy="14.95" r="2.8" fill="#efefef" stroke="#d4d4d4" stroke-width="0.5"/>
<circle cx="55.8" cy="14.95" r="3" fill="#4a8fd6"/>
<circle cx="52.3" cy="14.95" r="3.1" fill="#7cc242"/>
<text x="52.3" y="16.4" font-size="3.6" fill="#fff" text-anchor="middle" font-family="Liberation Sans">H</text>
</svg>
<svg class="r" style="left:461.50px;top:94.90px" width="20.60" height="20.60" viewBox="-10.30 -10.30 20.60 20.60"><path d="M0 0 L0.000 -9.300 A9.3 9.3 0 0 1 8.150 -4.480 Z" fill="#7cc242" stroke="#fff" stroke-width="0.4" stroke-linejoin="round"/><path d="M0 0 L8.150 -4.480 A9.3 9.3 0 0 1 9.300 -0.000 Z" fill="#7dcfa0" stroke="#fff" stroke-width="0.4" stroke-linejoin="round"/><path d="M0 0 L9.300 -0.000 A9.3 9.3 0 0 1 -4.480 8.150 Z" fill="#5b8dc9" stroke="#fff" stroke-width="0.4" stroke-linejoin="round"/><path d="M0 0 L-4.480 8.150 A9.3 9.3 0 0 1 -8.150 -4.480 Z" fill="#9dc0e8" stroke="#fff" stroke-width="0.4" stroke-linejoin="round"/><path d="M0 0 L-8.150 -4.480 A9.3 9.3 0 0 1 -0.000 -9.300 Z" fill="#c9c9c9" stroke="#fff" stroke-width="0.4" stroke-linejoin="round"/></svg>
<div class="r" style="left:484.90px;top:98.70px;width:17.60px;height:14.20px;background:#9dc0e8;border-radius:1.5px"></div>
<div class="t" style="top:102.00px;font-size:7.560px;color:#eef4fb;-webkit-text-stroke:0.14px #eef4fb;left:193.70px;width:600px;text-align:center;transform:scaleX(0.9259);transform-origin:center;">F</div>
<div class="r" style="left:504.80px;top:98.70px;width:17.60px;height:14.20px;background:#5b8dc9;border-radius:1.5px"></div>
<div class="t" style="top:102.00px;font-size:7.560px;color:#eef4fb;-webkit-text-stroke:0.14px #eef4fb;left:213.60px;width:600px;text-align:center;transform:scaleX(0.9259);transform-origin:center;">S</div>
<div class="r" style="left:525.00px;top:98.70px;width:17.60px;height:14.20px;background:#7cc242;border-radius:1.5px"></div>
<div class="t" style="top:102.00px;font-size:7.560px;color:#eef4fb;-webkit-text-stroke:0.14px #eef4fb;left:233.80px;width:600px;text-align:center;transform:scaleX(0.9259);transform-origin:center;">R</div>
<svg class="r" style="left:565px;top:90px" width="53" height="28" viewBox="565 90 53 28">
<circle cx="569.7" cy="99.8" r="3.2" fill="#7d1f42"/><circle cx="577.1" cy="104.2" r="3.2" fill="#7d1f42"/><circle cx="569.7" cy="108.6" r="3.2" fill="#7d1f42"/>
<circle cx="606.6" cy="99.8" r="3.2" fill="#e0d44a"/><circle cx="614" cy="104.2" r="3.2" fill="#e0d44a"/><circle cx="606.6" cy="108.6" r="3.2" fill="#e0d44a"/>
<path d="M578.8 91.9 C584.5 91.6 589 92.8 590.5 96.3 C592 92.8 596.5 91.6 602.2 91.9 L602.2 94.2 C597.5 94 593.6 95.2 592.5 99 L592.5 110.4 L596.4 110.4 L590.5 117 L584.6 110.4 L588.5 110.4 L588.5 99 C587.4 95.2 583.5 94 578.8 94.2 Z" fill="#2b9de0"/>
</svg>
<div class="t" style="top:135.00px;font-size:7.930px;color:#3a3a3a;-webkit-text-stroke:0.28px #3a3a3a;left:360.90px;">Custom Vineyard Reports</div>
<div class="t" style="top:134.00px;font-size:7.366px;color:#3d9ad8;-webkit-text-stroke:0.14px #3d9ad8;left:19.60px;width:600px;text-align:right;transform:scaleX(0.9259);transform-origin:right;">Create new</div>
<svg class="r" style="left:622.80px;top:137.10px;overflow:visible" width="2.23" height="3.60" viewBox="0 0 2.23 3.60"><path d="M0.3 0.3 L1.83 1.80 L0.3 3.30" fill="none" stroke="#3d9ad8" stroke-width="1.15"/></svg>
<div class="r" style="left:354.00px;top:149.10px;width:277.70px;height:0.60px;background:#ebebeb;"></div>
<div class="r" style="left:354.00px;top:149.70px;width:277.70px;height:18.30px;background:#f7f7f7;"></div>
<div class="r" style="left:354.00px;top:186.60px;width:277.70px;height:17.90px;background:#f7f7f7;"></div>
<div class="r" style="left:354.00px;top:167.70px;width:277.70px;height:0.50px;background:#f0f0f0;"></div>
<div class="r" style="left:354.00px;top:186.40px;width:277.70px;height:0.50px;background:#f0f0f0;"></div>
<div class="t" style="top:155.00px;font-size:7.074px;color:#474747;-webkit-text-stroke:0.14px #474747;left:361.00px;transform:scaleX(0.9259);transform-origin:left;">Brix, pH, TA</div>
<svg class="r" style="left:622.90px;top:156.50px;overflow:visible" width="2.36" height="3.80" viewBox="0 0 2.36 3.80"><path d="M0.3 0.3 L1.96 1.90 L0.3 3.50" fill="none" stroke="#3d9ad8" stroke-width="1.15"/></svg>
<div class="t" style="top:173.00px;font-size:7.074px;color:#474747;-webkit-text-stroke:0.14px #474747;left:361.00px;transform:scaleX(0.9259);transform-origin:left;">Cluster weights</div>
<svg class="r" style="left:622.90px;top:175.10px;overflow:visible" width="2.36" height="3.80" viewBox="0 0 2.36 3.80"><path d="M0.3 0.3 L1.96 1.90 L0.3 3.50" fill="none" stroke="#3d9ad8" stroke-width="1.15"/></svg>
<div class="t" style="top:191.00px;font-size:7.074px;color:#474747;-webkit-text-stroke:0.14px #474747;left:361.00px;transform:scaleX(0.9259);transform-origin:left;">Leaf Water Potential</div>
<svg class="r" style="left:622.90px;top:193.30px;overflow:visible" width="2.36" height="3.80" viewBox="0 0 2.36 3.80"><path d="M0.3 0.3 L1.96 1.90 L0.3 3.50" fill="none" stroke="#3d9ad8" stroke-width="1.15"/></svg>
<svg class="r" style="left:359.5px;top:216.5px" width="8.6" height="8.4" viewBox="0 0 8.6 8.4">
<rect x="0.2" y="0.1" width="8.1" height="8.1" rx="0.5" fill="#2a9d3f"/>
<path d="M1.6 3.4 A1.8 1.7 0 0 1 5.2 3.4 Z" fill="#fff"/>
<path d="M0.5 4.1 H7.9" stroke="#fff" stroke-width="0.6" stroke-opacity="0.85"/>
<path d="M0.9 8.1 L3.1 4.9 M3.3 8.1 L5.5 4.9 M5.7 8.1 L7.8 5.1" stroke="#fff" stroke-width="0.8"/>
</svg>
<div class="t" style="top:217.00px;font-size:7.860px;color:#3a3a3a;-webkit-text-stroke:0.28px #3a3a3a;left:373.30px;">Vineyards</div>
<svg class="r" style="left:497.80px;top:217.50px" width="4.6" height="4.6" viewBox="0 0 4.6 4.6"><path d="M2.3 0 V4.6 M0 2.3 H4.6" stroke="#3d9ad8" stroke-width="1.5"/></svg>
<div class="t" style="top:216.00px;font-size:7.214px;color:#3d9ad8;-webkit-text-stroke:0.14px #3d9ad8;left:506.00px;transform:scaleX(0.9259);transform-origin:left;">Add vineyard</div>
<div class="r" style="left:555.40px;top:214.00px;width:0.80px;height:11.60px;background:#eeeeee;"></div>
<div class="t" style="top:216.00px;font-size:7.398px;color:#3d9ad8;-webkit-text-stroke:0.14px #3d9ad8;left:563.90px;transform:scaleX(0.9259);transform-origin:left;">Vineyard explorer</div>
<svg class="r" style="left:620.60px;top:218.40px;overflow:visible" width="2.23" height="3.60" viewBox="0 0 2.23 3.60"><path d="M0.3 0.3 L1.83 1.80 L0.3 3.30" fill="none" stroke="#3d9ad8" stroke-width="1.15"/></svg>
<div class="r" style="left:354.00px;top:230.30px;width:277.70px;height:0.60px;background:#ebebeb;"></div>
<div class="t" style="top:233.00px;font-size:7.214px;color:#444;-webkit-text-stroke:0.14px #444;left:359.30px;transform:scaleX(0.9259);transform-origin:left;">Varietals</div>
<svg class="r" style="left:390.6px;top:235.5px" width="4.2" height="3.1" viewBox="-0.5 -0.5 4.2 3.1"><path d="M0 0 L1.6 1.6 L3.2 0" fill="none" stroke="#555" stroke-width="0.7"/></svg>
<div class="r" style="left:354.00px;top:243.10px;width:103.00px;height:0.60px;background:#ebebeb;"></div>
<div class="t" style="top:251.00px;font-size:7.020px;color:#474747;-webkit-text-stroke:0.14px #474747;left:-215.80px;width:600px;text-align:right;transform:scaleX(0.9259);transform-origin:right;">48.2 %</div>
<div class="r" style="left:389.60px;top:251.30px;width:7.40px;height:7.20px;background:#6cbdee;"></div>
<div class="t" style="top:251.00px;font-size:7.020px;color:#474747;-webkit-text-stroke:0.14px #474747;left:401.30px;transform:scaleX(0.9259);transform-origin:left;">Pinot Noir</div>
<div class="t" style="top:265.00px;font-size:7.020px;color:#474747;-webkit-text-stroke:0.14px #474747;left:-215.80px;width:600px;text-align:right;transform:scaleX(0.9259);transform-origin:right;">29.8 %</div>
<div class="r" style="left:389.60px;top:265.05px;width:7.40px;height:7.20px;background:#e2b08b;"></div>
<div class="t" style="top:265.00px;font-size:7.020px;color:#474747;-webkit-text-stroke:0.14px #474747;left:401.30px;transform:scaleX(0.9259);transform-origin:left;">Chardonnay</div>
<div class="t" style="top:279.00px;font-size:7.020px;color:#474747;-webkit-text-stroke:0.14px #474747;left:-215.80px;width:600px;text-align:right;transform:scaleX(0.9259);transform-origin:right;">23.6 %</div>
<div class="r" style="left:389.60px;top:278.80px;width:7.40px;height:7.20px;background:#72ced9;"></div>
<div class="t" style="top:279.00px;font-size:7.020px;color:#474747;-webkit-text-stroke:0.14px #474747;left:401.30px;transform:scaleX(0.9259);transform-origin:left;">Sauvignon Blanc</div>
<div class="t" style="top:292.00px;font-size:7.020px;color:#474747;-webkit-text-stroke:0.14px #474747;left:-215.80px;width:600px;text-align:right;transform:scaleX(0.9259);transform-origin:right;">10.1%</div>
<div class="r" style="left:389.60px;top:292.55px;width:7.40px;height:7.20px;background:#e6a49b;"></div>
<div class="t" style="top:292.00px;font-size:7.020px;color:#474747;-webkit-text-stroke:0.14px #474747;left:401.30px;transform:scaleX(0.9259);transform-origin:left;">Syrah</div>
<div class="t" style="top:306.00px;font-size:7.020px;color:#474747;-webkit-text-stroke:0.14px #474747;left:-215.80px;width:600px;text-align:right;transform:scaleX(0.9259);transform-origin:right;">4.9%</div>
<div class="r" style="left:389.60px;top:306.30px;width:7.40px;height:7.20px;background:#a8e8de;"></div>
<div class="t" style="top:306.00px;font-size:7.020px;color:#474747;-webkit-text-stroke:0.14px #474747;left:401.30px;transform:scaleX(0.9259);transform-origin:left;">Other</div>
<svg class="r" style="left:465.50px;top:235.10px" width="79.20" height="79.20" viewBox="-39.60 -39.60 79.20 79.20"><path d="M0 0 L0.000 -38.600 A38.6 38.6 0 0 1 20.398 32.770 Z" fill="#6cbdee" stroke="#fff" stroke-width="0.8" stroke-linejoin="round"/><path d="M0 0 L20.398 32.770 A38.6 38.6 0 0 1 -31.346 22.525 Z" fill="#e2b08b" stroke="#fff" stroke-width="0.8" stroke-linejoin="round"/><path d="M0 0 L-31.346 22.525 A38.6 38.6 0 0 1 -26.276 -28.276 Z" fill="#72ced9" stroke="#fff" stroke-width="0.8" stroke-linejoin="round"/><path d="M0 0 L-26.276 -28.276 A38.6 38.6 0 0 1 -7.630 -37.838 Z" fill="#e6a49b" stroke="#fff" stroke-width="0.8" stroke-linejoin="round"/><path d="M0 0 L-7.630 -37.838 A38.6 38.6 0 0 1 -0.000 -38.600 Z" fill="#a8e8de" stroke="#fff" stroke-width="0.8" stroke-linejoin="round"/></svg>
<div class="r" style="left:555.60px;top:230.90px;width:0.60px;height:91.00px;background:#ebebeb;"></div>
<div class="r" style="left:564.80px;top:259.00px;width:66.90px;height:0.60px;background:#ebebeb;"></div>
<div class="r" style="left:564.80px;top:290.30px;width:66.90px;height:0.60px;background:#ebebeb;"></div>
<div class="t" style="top:239.00px;font-size:11.000px;color:#2a2a2a;left:-15.80px;width:600px;text-align:right;-webkit-text-stroke:0.3px #2a2a2a;">16</div>
<div class="t" style="top:241.00px;font-size:7.290px;color:#474747;-webkit-text-stroke:0.14px #474747;left:588.60px;transform:scaleX(0.9259);transform-origin:left;">vineyards</div>
<div class="t" style="top:269.00px;font-size:11.000px;color:#2a2a2a;left:-15.80px;width:600px;text-align:right;-webkit-text-stroke:0.3px #2a2a2a;">19</div>
<div class="t" style="top:271.00px;font-size:7.366px;color:#474747;-webkit-text-stroke:0.14px #474747;left:588.60px;transform:scaleX(0.9259);transform-origin:left;">varietals</div>
<div class="t" style="top:300.00px;font-size:10.900px;color:#2a2a2a;left:-15.80px;width:600px;text-align:right;-webkit-text-stroke:0.3px #2a2a2a;">126</div>
<div class="t" style="top:301.00px;font-size:7.290px;color:#474747;-webkit-text-stroke:0.14px #474747;left:588.60px;transform:scaleX(0.9259);transform-origin:left;">tons</div>
<div class="r" style="left:606.30px;top:301.30px;width:15.80px;height:7.60px;background:#e8e8e8;border-radius:1px"></div>
<div class="t" style="top:303.00px;font-size:5.610px;color:#555;font-weight:700;left:314.30px;width:600px;text-align:center;transform:scaleX(0.9091);transform-origin:center;">AVG</div>
<svg class="r" style="left:360.3px;top:332px" width="9" height="10" viewBox="0 0 9 10">
<path d="M0.5 0.5 H5.6 L8.4 3.3 V9.5 H0.5 Z" fill="#fff" stroke="#555" stroke-width="0.75"/>
<path d="M5.6 0.5 V3.3 H8.4" fill="none" stroke="#555" stroke-width="0.6"/>
<path d="M2.3 6.4 L3.6 7.7 L6.4 5" fill="none" stroke="#3aa34a" stroke-width="1.1"/>
</svg>
<div class="t" style="top:334.00px;font-size:7.920px;color:#3a3a3a;-webkit-text-stroke:0.28px #3a3a3a;left:373.90px;">Contracts</div>
<svg class="r" style="left:501.40px;top:335.30px" width="4.6" height="4.6" viewBox="0 0 4.6 4.6"><path d="M2.3 0 V4.6 M0 2.3 H4.6" stroke="#3d9ad8" stroke-width="1.5"/></svg>
<div class="t" style="top:334.00px;font-size:7.214px;color:#3d9ad8;-webkit-text-stroke:0.14px #3d9ad8;left:509.90px;transform:scaleX(0.9259);transform-origin:left;">Add contract</div>
<div class="r" style="left:558.00px;top:330.60px;width:0.80px;height:11.60px;background:#eeeeee;"></div>
<div class="t" style="top:334.00px;font-size:7.355px;color:#3d9ad8;-webkit-text-stroke:0.14px #3d9ad8;left:566.10px;transform:scaleX(0.9259);transform-origin:left;">Contract explorer</div>
<svg class="r" style="left:621.80px;top:336.40px;overflow:visible" width="2.29" height="3.70" viewBox="0 0 2.29 3.70"><path d="M0.3 0.3 L1.89 1.85 L0.3 3.40" fill="none" stroke="#3d9ad8" stroke-width="1.15"/></svg>
<div class="r" style="left:354.00px;top:346.70px;width:277.70px;height:0.60px;background:#ebebeb;"></div>
<div class="t" style="top:355.00px;font-size:15.100px;color:#333;-webkit-text-stroke:0.14px #333;left:95.90px;width:600px;text-align:center;">75</div>
<div class="t" style="top:375.00px;font-size:7.376px;color:#474747;-webkit-text-stroke:0.14px #474747;left:95.90px;width:600px;text-align:center;transform:scaleX(0.9259);transform-origin:center;">contracts</div>
<div class="r" style="left:369.20px;top:386.10px;width:53.40px;height:0.60px;background:#ebebeb;"></div>
<div class="t" style="top:392.00px;font-size:6.998px;color:#474747;-webkit-text-stroke:0.14px #474747;left:96.20px;width:600px;text-align:center;transform:scaleX(0.9259);transform-origin:center;">95% buy / 5% sell</div>
<div class="r" style="left:440.50px;top:354.00px;width:0.60px;height:44.50px;background:#ebebeb;"></div>
<div class="t" style="top:356.00px;font-size:14.860px;color:#333;-webkit-text-stroke:0.14px #333;left:193.00px;width:600px;text-align:center;">$542,032</div>
<div class="t" style="top:375.00px;font-size:7.430px;color:#474747;-webkit-text-stroke:0.14px #474747;left:193.10px;width:600px;text-align:center;transform:scaleX(0.9259);transform-origin:center;">committed in 2019 to</div>
<div class="r" style="left:460.00px;top:387.20px;width:33.30px;height:9.60px;background:#c3e7fa;border-radius:1.5px"></div>
<div class="t" style="top:389.00px;font-size:7.128px;color:#3a6d8c;-webkit-text-stroke:0.14px #3a6d8c;left:176.70px;width:600px;text-align:center;transform:scaleX(0.9259);transform-origin:center;">Buy fruit</div>
<div class="t" style="top:389.00px;font-size:7.128px;color:#474747;-webkit-text-stroke:0.14px #474747;left:497.00px;transform:scaleX(0.9259);transform-origin:left;">Sell fruit</div>
<div class="r" style="left:542.60px;top:354.00px;width:0.60px;height:44.50px;background:#ebebeb;"></div>
<div class="t" style="top:356.00px;font-size:14.040px;color:#333;-webkit-text-stroke:0.14px #333;left:285.60px;width:600px;text-align:center;">54%</div>
<div class="t" style="top:376.00px;font-size:7.312px;color:#474747;-webkit-text-stroke:0.14px #474747;left:284.90px;width:600px;text-align:center;transform:scaleX(0.9259);transform-origin:center;">of blocks under</div>
<div class="t" style="top:384.00px;font-size:7.463px;color:#474747;-webkit-text-stroke:0.14px #474747;left:285.40px;width:600px;text-align:center;transform:scaleX(0.9259);transform-origin:center;">contract</div>
</body></html>
